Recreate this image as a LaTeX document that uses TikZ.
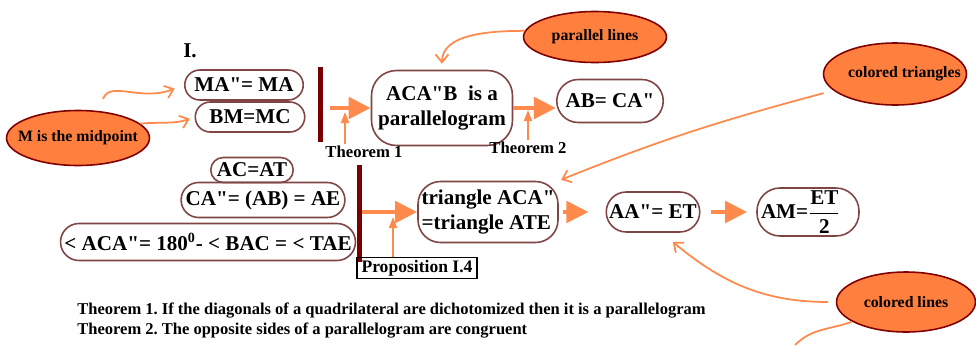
\documentclass[tikz,border=0pt]{standalone}
\usepackage{fontspec}
\setmainfont{Liberation Serif}[Ligatures=TeXOff]
\usepackage{amsmath}
\usetikzlibrary{arrows.meta, positioning, shapes.geometric, shapes.misc}

\definecolor{arroworange}{HTML}{FF8A4C}
\definecolor{ovalorange}{HTML}{FF7F3F}
\definecolor{ovaledge}{HTML}{800000}
\definecolor{boxedge}{HTML}{7F4545}
\definecolor{barred}{HTML}{7A0000}

\frenchspacing
\begin{document}
\begin{tikzpicture}[x=0.02cm, y=-0.02cm,
    pill/.style={draw=boxedge, line width=0.9pt, rounded rectangle, inner sep=1pt, font=\fontsize{12}{13}\selectfont\bfseries},
    rbox/.style={draw=boxedge, line width=0.9pt, rounded corners=0.5cm, inner sep=2pt, font=\fontsize{12}{14}\selectfont\bfseries},
    oval/.style={draw=ovaledge, line width=0.9pt, fill=ovalorange, ellipse, inner xsep=-0.6cm, inner ysep=-0.1cm, font=\fontsize{9}{10}\selectfont\bfseries},
    bar/.style={fill=barred, minimum width=0.1cm, inner sep=0pt},
    bigarrow/.style={draw=arroworange, line width=2.8pt, -{Triangle[length=0.44cm, width=0.42cm]}},
    thinarrow/.style={draw=arroworange, line width=1pt, -{Triangle[length=0.22cm, width=0.16cm]}},
    link/.style={draw=arroworange, line width=1pt, -{Straight Barb[length=0.16cm, width=0.26cm]}},
    lbl/.style={inner sep=1pt, font=\fontsize{9.5}{11}\selectfont\bfseries},
    note/.style={anchor=west, inner sep=0pt, font=\fontsize{9.4}{11}\selectfont\bfseries}
]
\useasboundingbox (0,0) rectangle (976,345);

% First row: Theorem 1 and Theorem 2
\node[lbl, font=\fontsize{12}{13}\selectfont\bfseries] (roman) at (190,51) {I.};
\node[pill, minimum width=2.44cm, minimum height=0.6cm] (ma) at (244,85) {MA"= MA};
\node[pill, minimum width=2.26cm, minimum height=0.6cm] (bm) at (250,117) {BM=MC};
\node[oval, minimum width=2.86cm, minimum height=1.1cm] (mid) at (78,138) {M is the midpoint};
\node[bar, minimum height=1.5cm] (bar1) at (320,104.5) {};
\node[rbox, minimum width=2.82cm, minimum height=1.5cm, align=center] (par) at (442,108) {ACA"B \ is a\\parallelogram};
\node[pill, minimum width=2.2cm, minimum height=0.86cm] (abca) at (610,101) {AB= CA"};
\node[oval, minimum width=2.86cm, minimum height=1.02cm] (parlines) at (595,37) {parallel lines};
\node[oval, minimum width=2.86cm, minimum height=1.24cm] (coltri) at (895,74) {\hspace*{0.38cm}colored triangles};
\node[lbl] (thm1) at (364,152) {Theorem 1};
\node[lbl] (thm2) at (528,148) {Theorem 2};

% Second row: Proposition I.4
\node[pill, minimum width=1.72cm, minimum height=0.5cm] (acat) at (252,170) {AC=AT};
\node[pill, minimum width=3.2cm, minimum height=0.7cm] (caab) at (263,200) {CA"= (AB) = AE};
\node[pill, minimum width=5.86cm, minimum height=0.74cm] (angle) at (208,242) {< ACA"= 180\textsuperscript{0}- < BAC = < TAE};
\node[bar, minimum height=1.94cm] (bar2) at (359,213.5) {};
\node[rbox, rounded corners=0.45cm, minimum width=2.68cm, minimum height=1.22cm, align=left] (tri) at (488,212) {triangle ACA"\\=triangle ATE};
\node[pill, minimum width=1.94cm, minimum height=0.8cm] (aaet) at (653,212) {AA"= ET};
\node[rbox, rounded corners=0.46cm, inner sep=0pt, minimum width=1.98cm, minimum height=0.96cm] (amet) at (808,212) {\hspace*{0.08cm}AM=$\dfrac{\text{ET}}{\text{2}}$\hspace*{0.37cm}};
\node[draw, line width=1pt, minimum width=2.4cm, minimum height=0.42cm, inner sep=1pt, font=\fontsize{10}{11}\selectfont\bfseries] (prop) at (417,268) {Proposition I.4};
\node[oval, minimum width=2.78cm, minimum height=1.2cm] (collines) at (906,302) {colored lines};

% Notes
\node[note] (note1) at (77,311) {Theorem 1. If the diagonals of a quadrilateral are dichotomized then it is a parallelogram};
\node[note] (note2) at (77,331) {Theorem 2. The opposite sides of a parallelogram are congruent};

% Thick arrows
\draw[bigarrow, shorten <=0.14cm] (bar1.east |- par.west) -- (par.west);
\draw[bigarrow] (par.east) -- (par.east -| abca.west);
\draw[bigarrow] (bar2.east |- tri.west) -- (tri.west);
\draw[bigarrow, shorten <=0.08cm, shorten >=0.34cm] (tri.east) -- (aaet.west);
\draw[bigarrow, shorten <=0.2cm, shorten >=0.18cm] (aaet.east) -- (amet.west);

% Thin arrows from the references
\coordinate (t1) at (345,112);
\coordinate (t2) at (528,110);
\coordinate (t3) at (393,217);
\draw[thinarrow] (thm1.north -| t1) -- (t1);
\draw[thinarrow] (thm2.north) -- (t2);
\draw[thinarrow] (prop.north -| t3) -- (t3);

% Curved links
\coordinate (w1) at (103,99);
\draw[link, shorten >=0.2cm] (w1) .. controls (110,80) and (140,102) .. (ma.west);
\draw[link, shorten >=0.1cm] (mid.13) to[out=5, in=200] (bm.west);
\draw[link, shorten >=0.12cm] (parlines.175) to[out=180, in=90] (par.north);
\draw[link, shorten <=0.2cm, shorten >=0.05cm] (coltri.195) to[out=195, in=22] (tri.north east);
\draw[link, shorten <=0.15cm] (collines.west) to[out=180, in=-40] ([shift={(-7,9)}]aaet.south east);
\coordinate (c2) at (795,345);
\draw[draw=arroworange, line width=1pt] (collines.200) to[out=200, in=45] (c2);
\end{tikzpicture}
\end{document}
